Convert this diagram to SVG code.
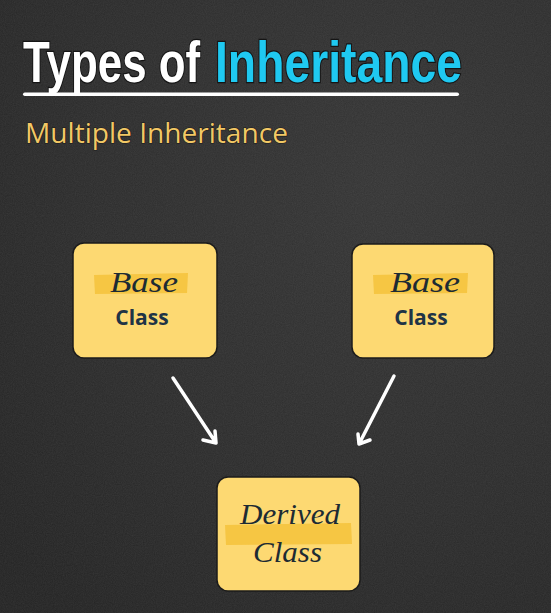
<svg xmlns="http://www.w3.org/2000/svg" width="551" height="613" viewBox="0 0 551 613">
  <defs>
    <radialGradient id="board" cx="0.7" cy="0.3" r="0.9">
      <stop offset="0" stop-color="#343434"/>
      <stop offset="0.6" stop-color="#2b2b2b"/>
      <stop offset="1" stop-color="#232323"/>
    </radialGradient>
    <filter id="chalk" x="0" y="0" width="100%" height="100%">
      <feTurbulence type="fractalNoise" baseFrequency="0.9" numOctaves="2" seed="4" result="n"/>
      <feColorMatrix in="n" type="matrix" values="0 0 0 0 1  0 0 0 0 1  0 0 0 0 1  0 0 0 0.08 0"/>
    </filter>
    <style>
      .title { font-family: "Liberation Sans", Arial, sans-serif; font-weight: bold; font-size: 57px; stroke: #151515; stroke-width: 2.4; paint-order: stroke; }
      .sub { font-family: "Open Sans", "Noto Sans", sans-serif; font-size: 28px; fill: #f2c865; stroke: #1a1a1a; stroke-width: 1.2; paint-order: stroke; }
      .card { fill: #fdd972; stroke: #1b1b1b; stroke-width: 1.5; }
      .mark { fill: #f4c23b; opacity: 0.85; }
      .hand { font-family: "Liberation Serif", "DejaVu Serif", serif; font-style: italic; font-size: 30px; fill: #1d2b33; }
      .label { font-family: "Open Sans", "Noto Sans", sans-serif; font-weight: bold; font-size: 21px; fill: #1f3446; text-anchor: middle; }
      .arrow { fill: none; stroke: #ffffff; stroke-width: 3.5; stroke-linecap: round; stroke-linejoin: round; }
    </style>
  </defs>

  <!-- chalkboard background -->
  <rect width="551" height="613" fill="url(#board)"/>
  <rect width="551" height="613" filter="url(#chalk)"/>

  <!-- heading: condensed bold title, squeezed horizontally -->
  <g id="heading">
    <text class="title" transform="translate(23 82) scale(0.757 1)" x="0" y="0" fill="#ffffff" textLength="234" lengthAdjust="spacingAndGlyphs">Types of</text>
    <text class="title" transform="translate(215 82) scale(0.81 1)" x="0" y="0" fill="#1fc9f1" textLength="305" lengthAdjust="spacingAndGlyphs">Inheritance</text>
    <rect x="23" y="92.5" width="436" height="3.5" rx="1.75" fill="#ffffff"/>
    <text class="sub" x="25" y="143" textLength="263" lengthAdjust="spacingAndGlyphs">Multiple Inheritance</text>
  </g>

  <!-- connectors -->
  <g id="connectors">
    <path class="arrow" d="M173 378 L216 443 M203 440 L216 443 L215 431"/>
    <path class="arrow" d="M394 376 L359 444 M370 440 L359 444 L358 434"/>
  </g>

  <!-- base class, left -->
  <g id="base-left">
    <rect class="card" x="73" y="243" width="144" height="115" rx="11"/>
    <path class="mark" d="M94 275 L188 273 L187 293 L95 294 Z"/>
    <text class="hand" x="110" y="292" textLength="68" lengthAdjust="spacingAndGlyphs">Base</text>
    <text class="label" x="142" y="325">Class</text>
  </g>

  <!-- base class, right -->
  <g id="base-right">
    <rect class="card" x="352" y="244" width="142" height="114" rx="11"/>
    <path class="mark" d="M373 275 L468 273 L467 293 L374 294 Z"/>
    <text class="hand" x="390" y="292" textLength="70" lengthAdjust="spacingAndGlyphs">Base</text>
    <text class="label" x="421" y="325">Class</text>
  </g>

  <!-- derived class -->
  <g id="derived">
    <rect class="card" x="217" y="477" width="143" height="114" rx="11"/>
    <path class="mark" d="M225 525 L351 523 L352 544 L226 545 Z"/>
    <text class="hand" x="240" y="524" textLength="100" lengthAdjust="spacingAndGlyphs">Derived</text>
    <text class="hand" x="253" y="562" textLength="69" lengthAdjust="spacingAndGlyphs">Class</text>
  </g>
</svg>
